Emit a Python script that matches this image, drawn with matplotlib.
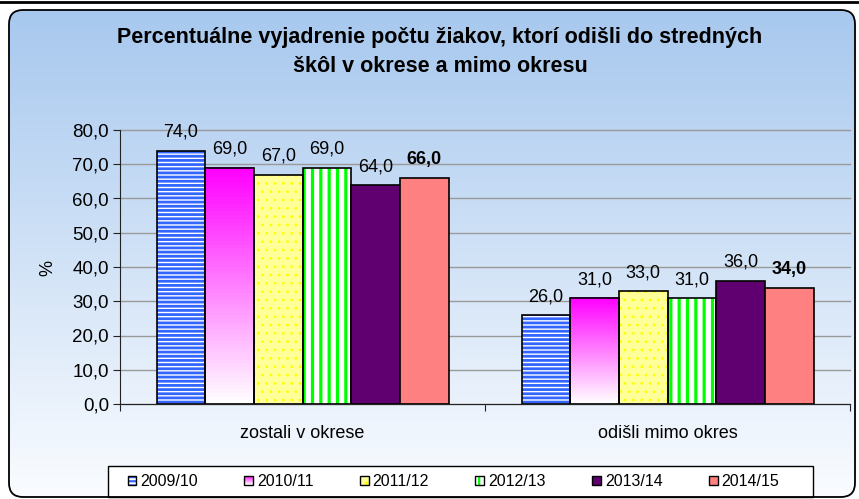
import numpy as np
import matplotlib
matplotlib.use('Agg')
import matplotlib.pyplot as plt
from matplotlib.patches import Rectangle, FancyBboxPatch
from matplotlib.legend_handler import HandlerBase, HandlerTuple
from matplotlib.colors import to_rgb

# data
categories = ['zostali v okrese', 'odišli mimo okres']
years = ['2009/10', '2010/11', '2011/12', '2012/13', '2013/14', '2014/15']
v2009 = [74.0, 26.0]
v2010 = [69.0, 31.0]
v2011 = [67.0, 33.0]
v2012 = [69.0, 31.0]
v2013 = [64.0, 36.0]
v2014 = [66.0, 34.0]
series = [v2009, v2010, v2011, v2012, v2013, v2014]
yticks = np.arange(0, 81, 10)
title = 'Percentuálne vyjadrenie počtu žiakov, ktorí odišli do stredných\nškôl v okrese a mimo okresu'

plt.rcParams['font.family'] = ['Liberation Sans', 'DejaVu Sans']
plt.rcParams['hatch.linewidth'] = 1.6

# fill styles per school year
styles = [
    dict(face='white', hatch='----', hc='#3366FF', hlw=2.0),
    dict(face='gradient', top='#FF00FF'),
    dict(face='#FFFF99', hatch='..', hc='#FFFF00', hlw=0.8),
    dict(face='white', hatch='||', hc='#00FF00', hlw=2.3),
    dict(face='#600070'),
    dict(face='#FF8080'),
]


def fade(top, n=64):
    t = np.linspace(0, 1, n)[:, None, None]
    return np.array(to_rgb(top)) * (1 - t) + np.ones(3) * t


def set_hlw(patches, lw):
    for p in patches:
        if hasattr(p, 'set_hatch_linewidth'):
            p.set_hatch_linewidth(lw)


class GradientHandler(HandlerBase):
    def __init__(self, top):
        super().__init__()
        self.top = top

    def create_artists(self, legend, orig_handle, xdescent, ydescent,
                       width, height, fontsize, trans):
        arts = []
        n = 10
        cols = fade(self.top, n)[::-1, 0, :]
        for k in range(n):
            r = Rectangle((-xdescent, -ydescent + height * k / n), width, height / n,
                          facecolor=cols[k], edgecolor='none', transform=trans)
            arts.append(r)
        arts.append(Rectangle((-xdescent, -ydescent), width, height, facecolor='none',
                              edgecolor='black', lw=1, transform=trans))
        return arts


W, H = 859, 499
fig = plt.figure(figsize=(W / 100, H / 100), dpi=100)

# background with rounded frame
bg = fig.add_axes([0, 0, 1, 1])
bg.axis('off')
frame = FancyBboxPatch((9, 2), 846, 487, boxstyle='round,pad=0,rounding_size=14',
                       facecolor='none', edgecolor='black', lw=1.3, zorder=3)
bg.add_patch(frame)
g = np.linspace(0, 1, 256)[:, None, None]
bgimg = np.array(to_rgb('#A7C8EE')) * (1 - g) + np.array(to_rgb('#FAFCFF')) * g
im = bg.imshow(bgimg, extent=[9, 855, 2, 489], aspect='auto', origin='upper', zorder=1)
im.set_clip_path(frame)
bg.plot([0, W], [H - 1.5, H - 1.5], color='black', lw=2, zorder=4)
bg.add_patch(Rectangle((108, 2), 705, 31, facecolor='white', edgecolor='black', lw=1, zorder=2))
bg.set_xlim(0, W)
bg.set_ylim(0, H)

ax = fig.add_axes([120 / W, (H - 404) / H, 730 / W, 274 / H])
ax.set_facecolor('none')

x = np.arange(len(categories)) + 0.5
width = 0.8 / len(series)
handles = []
handler_map = {}
for i, (vals, st) in enumerate(zip(series, styles)):
    xs = x - 0.4 + width * (i + 0.5)
    if st['face'] == 'gradient':
        bars = ax.bar(xs, vals, width, facecolor='none', edgecolor='black', lw=1.2, zorder=3)
        for b in bars:
            ax.imshow(fade(st['top']), extent=[b.get_x(), b.get_x() + b.get_width(), 0, b.get_height()],
                      aspect='auto', zorder=2)
        h = Rectangle((0, 0), 1, 1)
        handler_map[h] = GradientHandler(st['top'])
    elif 'hatch' in st:
        fill = ax.bar(xs, vals, width, color=st['face'], hatch=st['hatch'], edgecolor=st['hc'], lw=0, zorder=2)
        set_hlw(fill, st['hlw'])
        bars = ax.bar(xs, vals, width, facecolor='none', edgecolor='black', lw=1.2, zorder=3)
        hf = Rectangle((0, 0), 1, 1, facecolor=st['face'], hatch=st['hatch'], edgecolor=st['hc'], lw=0)
        set_hlw([hf], st['hlw'])
        h = (hf, Rectangle((0, 0), 1, 1, facecolor='none', edgecolor='black', lw=1))
    else:
        bars = ax.bar(xs, vals, width, color=st['face'], edgecolor='black', lw=1.2, zorder=3)
        h = Rectangle((0, 0), 1, 1, facecolor=st['face'], edgecolor='black', lw=1)
    handles.append(h)
    for b, v in zip(bars, vals):
        ax.annotate(f'{v:.1f}'.replace('.', ','), (b.get_x() + b.get_width() / 2, v),
                    xytext=(0, 7), textcoords='offset points', ha='center', va='bottom',
                    fontsize=13, fontweight='bold' if i == len(series) - 1 else 'normal')

ax.set_xlim(0, len(categories))
ax.set_ylim(0, 80)
ax.set_yticks(yticks)
ax.set_yticklabels([f'{t:.1f}'.replace('.', ',') for t in yticks])
ax.yaxis.grid(True, color='#9A9A9A', lw=1)
for gl in ax.yaxis.get_gridlines():
    gl.set_clip_on(False)
ax.set_axisbelow(True)
for s in ['top', 'right']:
    ax.spines[s].set_visible(False)
for s in ['left', 'bottom']:
    ax.spines[s].set_color('#222222')
ax.tick_params(axis='y', direction='out', length=5, color='#222222', labelsize=13.5, pad=3)
ax.set_xticks(np.arange(len(categories) + 1))
ax.set_xticklabels([])
ax.tick_params(axis='x', which='major', direction='out', length=5, color='#222222')
ax.set_xticks(x, minor=True)
ax.set_xticklabels(categories, minor=True)
ax.tick_params(axis='x', which='minor', length=0, labelsize=13, pad=15)

fig.text(48 / W, 1 - 268 / H, '%', rotation=90, ha='center', va='center', fontsize=13)
fig.text(440 / W, 1 - 52 / H, title, ha='center', va='center', fontsize=15.5,
         fontweight='bold', linespacing=1.45)

leg = fig.legend(handles, years, loc='center', bbox_to_anchor=(453.5 / W, (H - 481.5) / H),
                 ncol=6, frameon=False, fontsize=11.5, handlelength=0.55, handleheight=0.55,
                 handletextpad=0.25, columnspacing=2.9,
                 handler_map={tuple: HandlerTuple(ndivide=1, pad=0), **handler_map})

fig.savefig('out.png', dpi=100)
